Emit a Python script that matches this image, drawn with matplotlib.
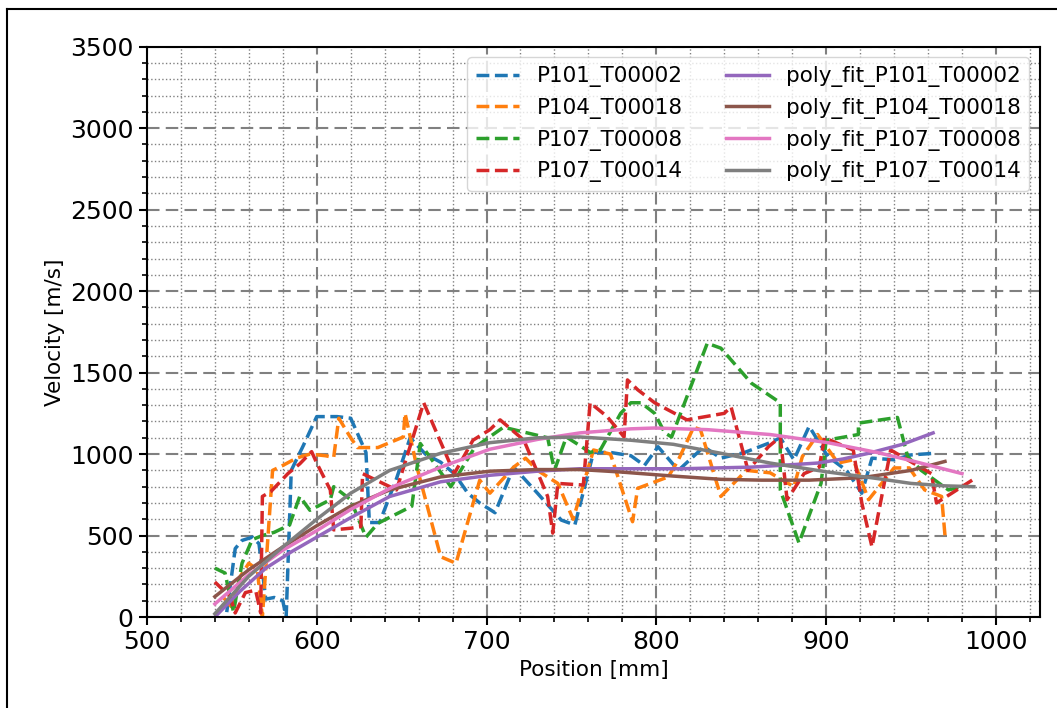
import matplotlib
matplotlib.use("Agg")
import matplotlib.pyplot as plt
from matplotlib.ticker import MultipleLocator
from matplotlib.lines import Line2D

# measured curves (position mm, velocity m/s)
p101_x = [547, 552, 556, 562, 566, 570, 575, 580, 582, 585, 592, 600, 612, 620, 629, 631, 637, 647, 655, 664,
          673, 681, 689, 696, 705, 716, 730, 744, 752, 763, 773, 785, 793, 801, 813, 828, 838, 852, 867, 873,
          881, 890, 901, 912, 921, 927, 940, 950, 964]
p101_y = [30, 420, 470, 490, 450, 110, 120, 100, 0, 900, 1050, 1230, 1230, 1220, 1010, 580, 580, 850, 1100, 1000,
          950, 880, 760, 700, 640, 920, 760, 595, 565, 1010, 1010, 990, 930, 1045, 900, 1045, 975, 1010, 1070, 1100,
          965, 1170, 985, 900, 760, 975, 965, 995, 1005]

p104_x = [545, 550, 555, 560, 565, 568, 574, 580, 588, 596, 605, 610, 613, 620, 624, 636, 651, 652, 659, 673,
          682, 696, 702, 716, 723, 730, 742, 751, 763, 773, 786, 789, 807, 813, 822, 826, 838, 853, 867, 881,
          886, 895, 907, 916, 925, 940, 949, 958, 968, 970]
p104_y = [120, 60, 250, 330, 290, 0, 900, 930, 975, 1000, 990, 980, 1220, 1100, 1040, 1040, 1105, 1250, 920, 370,
          330, 840, 760, 920, 975, 900, 820, 600, 1025, 1000, 585, 790, 860, 965, 1165, 1150, 740, 900, 885, 800,
          985, 1120, 945, 965, 720, 915, 915, 780, 740, 500]

p107a_x = [540, 546, 551, 556, 562, 568, 575, 584, 590, 596, 608, 610, 620, 624, 629, 636, 656, 661, 679, 693,
           699, 710, 736, 740, 747, 756, 761, 767, 779, 785, 791, 799, 805, 809, 830, 838, 856, 873, 873, 884,
           897, 900, 919, 919, 942, 948, 956, 972, 980]
p107a_y = [300, 270, 30, 330, 475, 500, 520, 565, 740, 655, 720, 800, 720, 615, 490, 575, 680, 1065, 800, 1040,
           1085, 1165, 1100, 900, 1105, 1045, 1010, 1025, 1250, 1315, 1315, 1250, 1130, 1105, 1680, 1650, 1435, 1315, 780, 455,
           820, 1085, 1120, 1190, 1225, 985, 900, 780, 800]

p107b_x = [540, 549, 552, 558, 564, 567, 568, 573, 583, 590, 597, 600, 608, 610, 620, 626, 627, 647, 663, 681,
           692, 702, 708, 722, 736, 739, 742, 757, 761, 771, 781, 783, 789, 799, 818, 840, 844, 854, 866, 873,
           877, 887, 896, 899, 916, 921, 927, 938, 962, 965, 974, 986]
p107b_y = [215, 125, 25, 150, 165, 25, 740, 770, 880, 940, 1015, 945, 780, 535, 545, 555, 880, 780, 1315, 880,
           1085, 1150, 1210, 1085, 740, 515, 820, 810, 1315, 1230, 1105, 1455, 1395, 1315, 1210, 1250, 1290, 900, 1045, 1105,
           720, 880, 920, 1100, 1025, 700, 430, 1025, 880, 700, 760, 840]

fit101_x = [540, 555, 570, 585, 600, 620, 643, 673, 702, 730, 755, 785, 815, 856, 880, 895, 910, 925, 945, 963]
fit101_y = [0, 160, 300, 400, 490, 610, 740, 830, 870, 895, 910, 910, 910, 920, 935, 945, 970, 1005, 1060, 1130]
fit104_x = [540, 560, 580, 600, 620, 643, 673, 702, 730, 755, 779, 810, 838, 862, 890, 921, 950, 970]
fit104_y = [125, 290, 430, 560, 680, 780, 860, 895, 905, 905, 890, 865, 845, 840, 840, 855, 900, 955]
fit107a_x = [540, 560, 580, 600, 620, 645, 673, 702, 730, 755, 785, 799, 830, 867, 901, 930, 950, 965, 980]
fit107a_y = [80, 260, 410, 530, 660, 800, 920, 1030, 1090, 1130, 1155, 1160, 1150, 1120, 1070, 1010, 960, 920, 880]
fit107b_x = [540, 560, 580, 600, 620, 643, 673, 702, 730, 755, 785, 810, 838, 867, 901, 930, 950, 970, 987]
fit107b_y = [20, 250, 430, 600, 760, 900, 1005, 1070, 1100, 1105, 1085, 1060, 1005, 945, 890, 850, 820, 805, 800]

names = ['P101_T00002', 'P104_T00018', 'P107_T00008', 'P107_T00014']

fig = plt.figure(figsize=(10.57, 7.08), dpi=100)
ax = fig.add_axes([0.139, 0.1285, 0.845, 0.8055])

raw = [(p101_x, p101_y), (p104_x, p104_y), (p107a_x, p107a_y), (p107b_x, p107b_y)]
fits = [(fit101_x, fit101_y), (fit104_x, fit104_y), (fit107a_x, fit107a_y), (fit107b_x, fit107b_y)]
for i, (xs, ys) in enumerate(raw):
    ax.plot(xs, ys, '--', color='C%d' % i, lw=2.5, label=names[i])
for i, (xs, ys) in enumerate(fits):
    ax.plot(xs, ys, '-', color='C%d' % (i + 4), lw=2.5, label='poly_fit_' + names[i])

ax.set_xlim(500, 1026)
ax.set_ylim(0, 3500)
ax.xaxis.set_major_locator(MultipleLocator(100))
ax.xaxis.set_minor_locator(MultipleLocator(20))
ax.yaxis.set_major_locator(MultipleLocator(500))
ax.yaxis.set_minor_locator(MultipleLocator(100))
ax.grid(which='major', color='gray', linestyle=(0, (6, 3)), linewidth=1.5)
ax.grid(which='minor', color='gray', linestyle=':', linewidth=1)
ax.tick_params(which='major', labelsize=18, length=6, width=1.5)
ax.tick_params(which='minor', length=3.5, width=1.2)
for s in ax.spines.values():
    s.set_linewidth(1.5)

ax.set_xlabel('Position [mm]', fontsize=15.5)
ax.set_ylabel('Velocity [m/s]', fontsize=15.5)
ax.legend(loc='upper right', ncol=2, fontsize=15.5)

# border around the screenshot
fig.add_artist(Line2D([7/1057, 7/1057], [0, 1 - 9/708], color='black', lw=1.5, transform=fig.transFigure))
fig.add_artist(Line2D([7/1057, 1], [1 - 9/708, 1 - 9/708], color='black', lw=1.5, transform=fig.transFigure))

plt.savefig('out.png', dpi=100)
